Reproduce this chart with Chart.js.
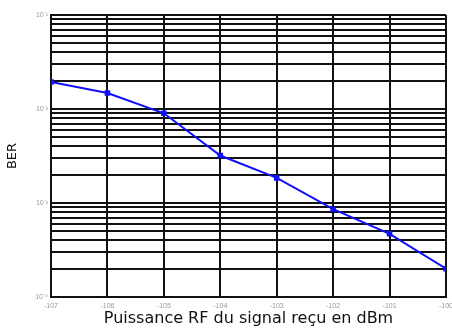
<!DOCTYPE html>
<html>
<head>
<meta charset="utf-8">
<script src="https://cdn.jsdelivr.net/npm/chart.js@4.4.1/dist/chart.umd.min.js"></script>
<style>
  html, body { margin: 0; padding: 0; background: #fff; }
  #wrap { width: 452px; height: 328px; }
</style>
</head>
<body>
<div id="wrap"><canvas id="berChart"></canvas></div>
<script>
// received RF power (dBm) and measured BER
const powerDbm = [-107, -106, -105, -104, -103, -102, -101, -100];
const berValues = [1.94e-2, 1.48e-2, 9.0e-3, 3.2e-3, 1.85e-3, 8.6e-4, 4.7e-4, 2.0e-4];

// log grid: decades and the 1..9 multiples inside them
const decades = [-4, -3, -2, -1];
const mantissas = [1, 2, 3, 4, 5, 6, 7, 8, 9];
const decadeLabels = { '-4': '10\u207B\u2074', '-3': '10\u207B\u00B3', '-2': '10\u207B\u00B2', '-1': '10\u207B\u00B9' };

const yTicks = [];
decades.forEach(d => {
  mantissas.forEach(m => {
    const v = m * Math.pow(10, d);
    if (v <= 0.1 + 1e-12) yTicks.push({ value: v });
  });
});

let ctx = document.querySelector("#berChart");
let graph = new Chart(ctx, {
  type: "line",
  data: {
    datasets: [{
      data: powerDbm.map((x, i) => ({ x: x, y: berValues[i] })),
      borderColor: "#1010ff",
      backgroundColor: "#1010ff",
      borderWidth: 2,
      pointStyle: "rect",
      pointRadius: 2.5,
      tension: 0
    }]
  },
  options: {
    responsive: true,
    maintainAspectRatio: false,
    animation: false,
    layout: { padding: { top: 15, right: 6, left: 0, bottom: 0 } },
    plugins: {
      legend: { display: false },
      tooltip: { enabled: false }
    },
    scales: {
      x: {
        type: "linear",
        min: -107,
        max: -100,
        ticks: {
          stepSize: 1,
          color: "#999",
          font: { family: "Liberation Sans", size: 7 },
          padding: 5,
          maxRotation: 0
        },
        grid: { color: "#111", lineWidth: 2, tickLength: 0 },
        border: { color: "#111", width: 2 },
        title: {
          display: true,
          text: "Puissance RF du signal reçu en dBm",
          color: "#111",
          font: { family: "DejaVu Sans", size: 16 },
          padding: { top: 0, bottom: 0 }
        },
        afterFit: s => { s.height = 31; s.paddingLeft = 0; s.paddingRight = 0; }
      },
      y: {
        type: "logarithmic",
        min: 1e-4,
        max: 1e-1,
        afterBuildTicks: s => { s.ticks = yTicks.map(t => ({ value: t.value })); },
        ticks: {
          autoSkip: false,
          color: "#999",
          font: { family: "Liberation Sans", size: 7 },
          padding: 3,
          callback: v => {
            const e = Math.round(Math.log10(v));
            return Math.abs(v - Math.pow(10, e)) < 1e-12 ? decadeLabels[String(e)] : "";
          }
        },
        grid: { color: "#111", lineWidth: 2, tickLength: 0 },
        border: { color: "#111", width: 2 },
        title: {
          display: true,
          text: "BER",
          color: "#111",
          font: { family: "DejaVu Sans", size: 13 },
          padding: { top: 5, bottom: 0 }
        },
        afterFit: s => { s.width = 51; s.paddingTop = 0; s.paddingBottom = 0; }
      }
    }
  }
});
</script>
</body>
</html>
